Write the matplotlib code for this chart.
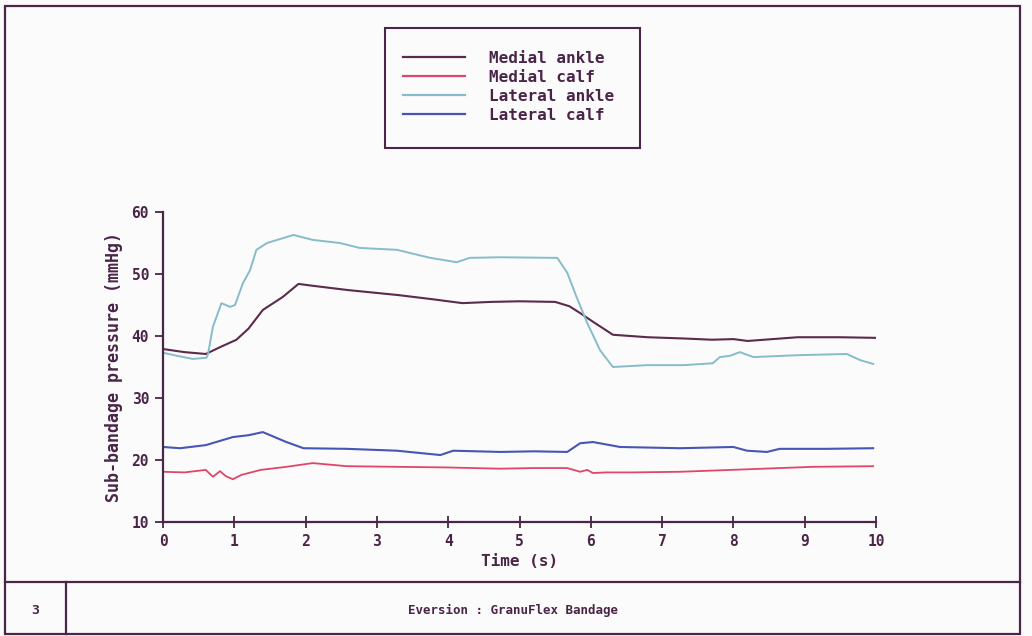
import matplotlib
matplotlib.use("Agg")
import matplotlib.pyplot as plt
from matplotlib.patches import Rectangle
from matplotlib.lines import Line2D

# values
medial_ankle_t = [0, 0.3, 0.6, 0.8, 1.03, 1.2, 1.4, 1.68, 1.9, 2.1, 2.6, 3.3, 3.8, 4.2, 4.6, 5.0, 5.5,
                  5.7, 5.85, 6.03, 6.31, 6.8, 7.3, 7.7, 8.0, 8.2, 8.9, 9.5, 10]
medial_ankle = [37.9, 37.4, 37.1, 38.2, 39.4, 41.2, 44.2, 46.3, 48.4, 48.1, 47.4, 46.6, 45.9, 45.3, 45.5,
                45.6, 45.5, 44.8, 43.7, 42.3, 40.2, 39.8, 39.6, 39.4, 39.5, 39.2, 39.8, 39.8, 39.7]

medial_calf_t = [0, 0.3, 0.6, 0.7, 0.8, 0.88, 0.98, 1.1, 1.37, 1.73, 2.1, 2.58, 3.28, 3.98, 4.73, 5.2,
                 5.67, 5.85, 5.95, 6.03, 6.22, 6.6, 7.25, 8.19, 9.12, 9.96]
medial_calf = [18.1, 18.0, 18.4, 17.3, 18.2, 17.4, 16.9, 17.6, 18.4, 18.9, 19.5, 19.0, 18.9, 18.8, 18.6,
               18.7, 18.7, 18.1, 18.4, 17.9, 18.0, 18.0, 18.1, 18.5, 18.9, 19.0]

lateral_ankle_t = [0, 0.2, 0.42, 0.61, 0.63, 0.7, 0.82, 0.94, 1.01, 1.12, 1.22, 1.31, 1.46, 1.83, 2.1,
                   2.48, 2.76, 3.28, 3.75, 4.12, 4.3, 4.73, 5.53, 5.67, 5.8, 5.95, 6.13, 6.31, 6.79,
                   7.3, 7.71, 7.81, 7.95, 8.09, 8.28, 8.89, 9.59, 9.78, 9.96]
lateral_ankle = [37.3, 36.8, 36.3, 36.5, 37.0, 41.5, 45.3, 44.7, 45.0, 48.5, 50.6, 53.9, 55.0, 56.3,
                 55.5, 55.0, 54.2, 53.9, 52.6, 51.9, 52.6, 52.7, 52.6, 50.2, 46.3, 42.1, 37.7, 35.0,
                 35.3, 35.3, 35.6, 36.6, 36.8, 37.4, 36.6, 36.9, 37.1, 36.1, 35.5]

lateral_calf_t = [0, 0.24, 0.6, 0.98, 1.2, 1.4, 1.73, 1.97, 2.58, 3.28, 3.89, 4.07, 4.73, 5.2, 5.67,
                  5.85, 6.03, 6.41, 7.25, 8.0, 8.19, 8.47, 8.65, 9.3, 9.96]
lateral_calf = [22.1, 21.9, 22.4, 23.7, 24.0, 24.5, 22.9, 21.9, 21.8, 21.5, 20.8, 21.5, 21.3, 21.4,
                21.3, 22.7, 22.9, 22.1, 21.9, 22.1, 21.5, 21.3, 21.8, 21.8, 21.9]

labels = ["Medial ankle", "Medial calf", "Lateral ankle", "Lateral calf"]
colors = ["#5c2a4a", "#e2456a", "#86bccb", "#4656b4"]
ink = "#4a2548"

plt.rcParams['font.family'] = ['DejaVu Sans Mono']

W, H = 1032, 636
fig = plt.figure(figsize=(W / 100, H / 100), dpi=100, facecolor="#fbfbfb")

def fx(px):
    return px / W

def fy(py):
    return 1 - py / H

ax = fig.add_axes([fx(163), fy(522), fx(876) - fx(163), fy(212) - fy(522)])
ax.set_facecolor("none")

ax.plot(medial_ankle_t, medial_ankle, color=colors[0], lw=1.5)
ax.plot(medial_calf_t, medial_calf, color=colors[1], lw=1.3)
ax.plot(lateral_ankle_t, lateral_ankle, color=colors[2], lw=1.4)
ax.plot(lateral_calf_t, lateral_calf, color=colors[3], lw=1.5)

ax.set_xlim(0, 10)
ax.set_ylim(10, 60)
ax.set_xticks(range(0, 11))
ax.set_yticks([10, 20, 30, 40, 50, 60])
for s in ["top", "right"]:
    ax.spines[s].set_visible(False)
for s in ["left", "bottom"]:
    ax.spines[s].set_color(ink)
    ax.spines[s].set_linewidth(1.6)
ax.tick_params(axis="x", direction="inout", length=9, width=1.3, colors=ink, labelsize=10.5, pad=4)
ax.tick_params(axis="y", direction="out", length=6, width=1.3, colors=ink, labelsize=10.5, pad=4)
for t in ax.get_xticklabels() + ax.get_yticklabels():
    t.set_fontweight("bold")
ax.set_xlabel("Time (s)", fontsize=11.5, color=ink, fontweight="bold", labelpad=4)
ax.set_ylabel("Sub-bandage pressure (mmHg)", fontsize=12, color=ink, fontweight="bold", labelpad=6)

# legend box
fig.add_artist(Rectangle((fx(385), fy(148)), fx(640) - fx(385), fy(28) - fy(148),
                         transform=fig.transFigure, fill=False, edgecolor=ink, lw=1.5))
handles = [Line2D([], [], color=c, lw=1.6) for c in colors]
fig.legend(handles, labels, loc="upper left", bbox_to_anchor=(fx(403), fy(51)), frameon=False,
           borderpad=0, borderaxespad=0,
           prop={"size": 11.5, "weight": "bold"}, labelcolor=ink, handlelength=3.9,
           handletextpad=1.5, labelspacing=0.25)

# page frame and caption row
fig.add_artist(Rectangle((fx(5), fy(634)), fx(1020) - fx(5), fy(6) - fy(634),
                         transform=fig.transFigure, fill=False, edgecolor=ink, lw=1.6))
fig.add_artist(Line2D([fx(5), fx(1020)], [fy(582), fy(582)], transform=fig.transFigure,
                      color=ink, lw=1.6))
fig.add_artist(Line2D([fx(66), fx(66)], [fy(582), fy(634)], transform=fig.transFigure,
                      color=ink, lw=1.6))
fig.text(fx(35), fy(610), "3", ha="center", va="center", fontsize=9.5, fontweight="bold", color=ink)
fig.text(fx(513), fy(610), "Eversion : GranuFlex Bandage", ha="center", va="center",
         fontsize=9, fontweight="bold", color=ink)

fig.savefig("out.png", dpi=100, facecolor=fig.get_facecolor())
